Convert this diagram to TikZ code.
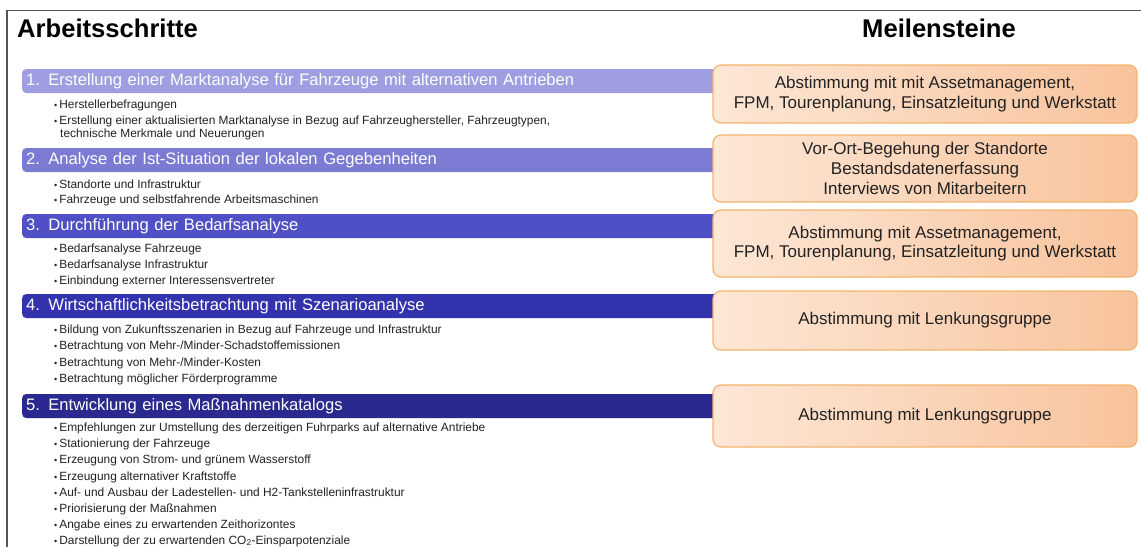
\documentclass[tikz,border=0pt]{standalone}
\usepackage{fontspec}
\setmainfont{Liberation Sans}
\usetikzlibrary{shadings}
\definecolor{barA}{HTML}{9E9EE0}
\definecolor{barB}{HTML}{7B7BD4}
\definecolor{barC}{HTML}{5050C6}
\definecolor{barD}{HTML}{3333AE}
\definecolor{barE}{HTML}{29298F}
\definecolor{msL}{HTML}{FDE7D6}
\definecolor{msR}{HTML}{F8C39C}
\definecolor{msBorder}{HTML}{F2B46E}
\definecolor{txt}{HTML}{222222}
\definecolor{frame}{HTML}{555555}
\tikzset{
  heading/.style={font=\bfseries\fontsize{25.6}{30}\selectfont, anchor=base west, inner sep=0pt},
  bar/.style={rounded corners=4pt, anchor=west, minimum width=703pt, minimum height=24pt,
    text width=695pt, align=left, inner xsep=4pt, inner ysep=0pt, text=white,
    font=\fontsize{16.6}{19}\selectfont, text height=12pt, text depth=3pt},
  item/.style={anchor=base west, inner sep=0pt, text=txt, font=\fontsize{11.9}{14}\selectfont},
  milestone/.style={rounded corners=8pt, draw=msBorder, line width=1.2pt,
    left color=msL, right color=msR, minimum width=424pt, align=center,
    text=txt, font=\fontsize{17}{19.8}\selectfont},
}
\newcommand{\bul}{{\fontsize{9}{9}\selectfont•}\hspace{2pt}}
\begin{document}
\begin{tikzpicture}[x=1pt,y=-1pt]
\useasboundingbox (0,0) rectangle (1141,547);
\fill[white] (0,0) rectangle (1141,547);
% frame
\coordinate (fTR) at (1141,10.5);
\coordinate (fTL) at (7,10.5);
\coordinate (fBL) at (7,547);
\draw[frame, line width=1.5pt] (fTR) -- (fTL) -- (fBL);
% headings
\node[heading] (h1) at (17,37) {Arbeitsschritte};
\node[heading] (h2) at (862,37) {Meilensteine};
% bars
\node[bar, fill=barA] (b1) at (22,81) {1. Erstellung einer Marktanalyse für Fahrzeuge mit alternativen Antrieben};
\node[bar, fill=barB] (b2) at (22,160) {2. Analyse der Ist-Situation der lokalen Gegebenheiten};
\node[bar, fill=barC] (b3) at (22,226) {3. Durchführung der Bedarfsanalyse};
\node[bar, fill=barD] (b4) at (22,306) {4. Wirtschaftlichkeitsbetrachtung mit Szenarioanalyse};
\node[bar, fill=barE] (b5) at (22,406) {5. Entwicklung eines Maßnahmenkatalogs};
% items group 1
\node[item] (i11) at (54,108) {\bul Herstellerbefragungen};
\node[item] (i12) at (54,124) {\bul Erstellung einer aktualisierten Marktanalyse in Bezug auf Fahrzeughersteller, Fahrzeugtypen,};
\node[item] (i13) at (60,137) {technische Merkmale und Neuerungen};
% group 2
\node[item] (i21) at (54,188) {\bul Standorte und Infrastruktur};
\node[item] (i22) at (54,203) {\bul Fahrzeuge und selbstfahrende Arbeitsmaschinen};
% group 3
\node[item] (i31) at (54,252) {\bul Bedarfsanalyse Fahrzeuge};
\node[item] (i32) at (54,268) {\bul Bedarfsanalyse Infrastruktur};
\node[item] (i33) at (54,284) {\bul Einbindung externer Interessensvertreter};
% group 4
\node[item] (i41) at (54,333) {\bul Bildung von Zukunftsszenarien in Bezug auf Fahrzeuge und Infrastruktur};
\node[item] (i42) at (54,349) {\bul Betrachtung von Mehr-/Minder-Schadstoffemissionen};
\node[item] (i43) at (54,366) {\bul Betrachtung von Mehr-/Minder-Kosten};
\node[item] (i44) at (54,382) {\bul Betrachtung möglicher Förderprogramme};
% group 5
\node[item] (i51) at (54,431) {\bul Empfehlungen zur Umstellung des derzeitigen Fuhrparks auf alternative Antriebe};
\node[item] (i52) at (54,447) {\bul Stationierung der Fahrzeuge};
\node[item] (i53) at (54,463) {\bul Erzeugung von Strom- und grünem Wasserstoff};
\node[item] (i54) at (54,480) {\bul Erzeugung alternativer Kraftstoffe};
\node[item] (i55) at (54,496) {\bul Auf- und Ausbau der Ladestellen- und H2-Tankstelleninfrastruktur};
\node[item] (i56) at (54,512) {\bul Priorisierung der Maßnahmen};
\node[item] (i57) at (54,528) {\bul Angabe eines zu erwartenden Zeithorizontes};
\node[item] (i58) at (54,544) {\bul Darstellung der zu erwartenden CO\textsubscript{2}-Einsparpotenziale};
% milestones
\node[milestone, minimum height=58pt] (m1) at (925,94) {Abstimmung mit mit Assetmanagement,\\FPM, Tourenplanung, Einsatzleitung und Werkstatt};
\node[milestone, minimum height=67pt] (m2) at (925,168.5) {Vor-Ort-Begehung der Standorte\\Bestandsdatenerfassung\\Interviews von Mitarbeitern};
\node[milestone, minimum height=67pt] (m3) at (925,243.5) {Abstimmung mit Assetmanagement,\\FPM, Tourenplanung, Einsatzleitung und Werkstatt};
\node[milestone, minimum height=59pt] (m4) at (925,320.5) {Abstimmung mit Lenkungsgruppe};
\node[milestone, minimum height=62pt] (m5) at (925,416) {Abstimmung mit Lenkungsgruppe};
\end{tikzpicture}
\end{document}
